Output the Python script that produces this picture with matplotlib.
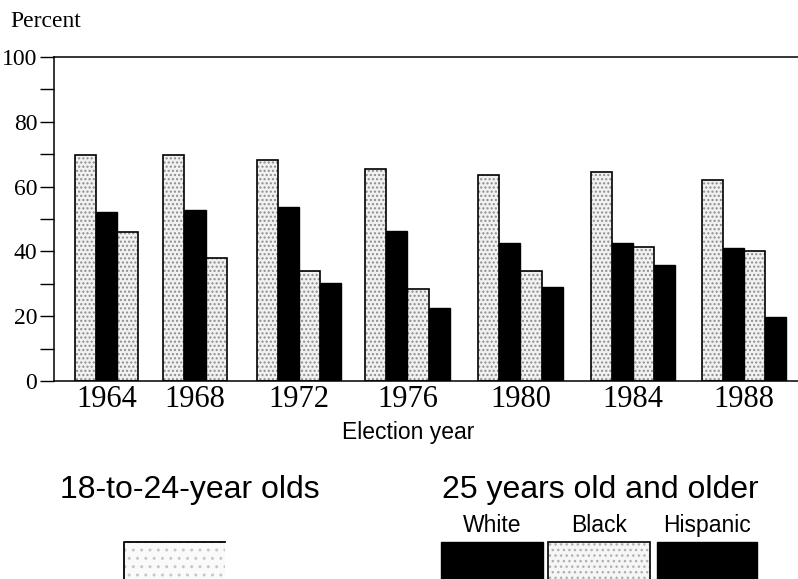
import matplotlib
matplotlib.use("Agg")
import matplotlib.pyplot as plt
from matplotlib.patches import Rectangle
from matplotlib.lines import Line2D
import numpy as np

# ---- data ----
years = ["1964", "1968", "1972", "1976", "1980", "1984", "1988"]
series_names = ["18-to-24-year olds", "White", "Black", "Hispanic"]
s_18_24 = [69.6, 69.9, 68.1, 65.4, 63.7, 64.4, 62.0]
s_white = [52.3, 52.8, 53.7, 46.3, 42.5, 42.6, 41.0]
s_black = [45.9, 38.0, 33.9, 28.4, 33.9, 41.4, 40.1]
s_hispanic = [None, None, 30.1, 22.4, 29.1, 35.8, 19.7]
y_ticks = [0, 20, 40, 60, 80, 100]
legend_left_title = "18-to-24-year olds"
legend_right_title = "25 years old and older"
legend_labels = ["White", "Black", "Hispanic"]

# ---- layout / style ----
W, H = 798, 579
fig = plt.figure(figsize=(W / 100, H / 100), dpi=100)
ax = fig.add_axes([54 / W, 1 - 381 / H, 744 / W, 324 / H])

group_pos = [2.48, 6.65, 11.56, 16.67, 22.0, 27.31, 32.55]
bar_w = 1.0
light = "#f1f1f1"
stipple = "#8c8c8c"
styles = ["light", "dark", "light", "dark"]

all_series = [s_18_24, s_white, s_black, s_hispanic]


def draw_bar(x, h, style):
    if style == "dark":
        ax.bar(x, h, width=bar_w, color="black", edgecolor="black", linewidth=1.0, zorder=3)
    else:
        ax.bar(x, h, width=bar_w, color=light, edgecolor=stipple, hatch="....",
               linewidth=0, zorder=2)
        ax.bar(x, h, width=bar_w, fill=False, edgecolor="black", linewidth=1.2, zorder=3)


for gi, gx in enumerate(group_pos):
    vals = [s[gi] for s in all_series]
    present = [(k, v) for k, v in enumerate(vals) if v is not None]
    n = len(present)
    offsets = (np.arange(n) - (n - 1) / 2) * bar_w
    for (k, v), off in zip(present, offsets):
        draw_bar(gx + off, v, styles[k])

ax.set_xlim(0, 744 / 21.2)
ax.set_ylim(0, 100)

ax.set_xticks(group_pos)
ax.set_xticklabels(years, fontfamily="Liberation Serif", fontsize=22)
ax.tick_params(axis="x", length=0, pad=3)

ax.set_yticks(y_ticks)
ax.set_yticklabels([str(t) for t in y_ticks], fontfamily="Liberation Serif", fontsize=17)
ax.set_yticks([10, 30, 50, 70, 90], minor=True)
ax.tick_params(axis="y", which="both", direction="out", length=10, width=1.0, pad=2)

for side in ["left", "top", "bottom"]:
    ax.spines[side].set_linewidth(1.1)
ax.spines["right"].set_visible(False)

# ---- texts ----
fig.text(10 / W, 1 - 27 / H, "Percent", fontfamily="Liberation Serif", fontsize=17,
         ha="left", va="baseline")
fig.text(408 / W, 1 - 432 / H, "Election year", fontfamily="Liberation Sans", fontsize=16.5,
         ha="center", va="center")
fig.text(190 / W, 1 - 498 / H, legend_left_title, fontfamily="Liberation Sans", fontsize=23,
         ha="center", va="baseline")
fig.text(600 / W, 1 - 498 / H, legend_right_title, fontfamily="Liberation Sans", fontsize=23,
         ha="center", va="baseline")

# ---- legend swatches (cropped at figure bottom) ----
tf = fig.transFigure
top = 1 - 542 / H
# 18-24 swatch: very light with top & left edges
fig.patches.append(Rectangle((124 / W, -0.05), 101 / W, top + 0.05, transform=tf,
                             facecolor="#fafafa", edgecolor="#c8c8c8", hatch="..",
                             linewidth=0))
fig.lines.append(Line2D([124 / W, 124 / W, 225 / W], [0, top, top], transform=tf,
                        color="black", linewidth=1.3))

box_x = [(441, 543), (548, 650), (657, 757)]
box_styles = styles[1:]
for (x0, x1), lab, st in zip(box_x, legend_labels, box_styles):
    if st == "dark":
        fig.patches.append(Rectangle((x0 / W, -0.05), (x1 - x0) / W, top + 0.05, transform=tf,
                                     facecolor="black", edgecolor="black", linewidth=1))
    else:
        fig.patches.append(Rectangle((x0 / W, -0.05), (x1 - x0) / W, top + 0.05, transform=tf,
                                     facecolor="#f6f6f6", edgecolor="#b0b0b0", hatch="...",
                                     linewidth=0))
        fig.patches.append(Rectangle((x0 / W, -0.05), (x1 - x0) / W, top + 0.05, transform=tf,
                                     fill=False, edgecolor="black", linewidth=1.2))
    fig.text((x0 + x1) / 2 / W, 1 - 532 / H, lab, fontfamily="Liberation Sans",
             fontsize=16.5, ha="center", va="baseline")

fig.savefig("out.png", dpi=100)
